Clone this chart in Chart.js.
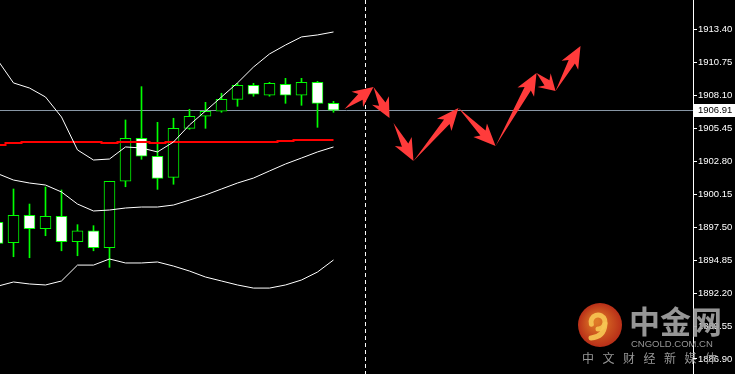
<!DOCTYPE html>
<html>
<head>
<meta charset="utf-8">
<script src="https://cdn.jsdelivr.net/npm/chart.js@4.4.1/dist/chart.umd.min.js"></script>
<style>
    html, body { margin: 0; padding: 0; background: #000; }
    #wrap { width: 735px; height: 374px; }
    canvas { background: #000; display: block; }
</style>
</head>
<body>
<div id="wrap"><canvas id="goldChart" width="735" height="374"></canvas></div>
<script>
// --- Data ---

// candles, oldest first (bar slot 0 is only half visible on the left edge)
const opens  = [1897.89, 1896.25, 1898.45, 1897.37, 1898.37, 1896.33, 1897.21, 1895.85, 1901.19, 1904.65, 1903.20,
                1901.51, 1905.45, 1906.42, 1906.82, 1907.78, 1908.91, 1908.11, 1908.99, 1908.11, 1909.15, 1907.46];
const highs  = [1898.20, 1900.57, 1899.36, 1900.73, 1900.49, 1897.70, 1897.62, 1901.19, 1906.12, 1908.80, 1905.93,
                1906.26, 1906.98, 1907.54, 1908.27, 1909.07, 1909.07, 1909.15, 1909.47, 1909.47, 1909.23, 1907.62];
const lows   = [1895.60, 1895.12, 1895.04, 1896.81, 1895.60, 1895.20, 1895.60, 1894.27, 1900.75, 1902.96, 1900.54,
                1900.95, 1905.37, 1905.45, 1906.74, 1907.22, 1908.03, 1908.03, 1907.46, 1907.30, 1905.53, 1906.74];
const closes = [1896.20, 1898.45, 1897.37, 1898.37, 1896.33, 1897.21, 1895.85, 1901.19, 1904.65, 1903.20, 1901.43,
                1905.45, 1906.42, 1906.82, 1907.78, 1908.91, 1908.19, 1909.07, 1908.11, 1909.15, 1907.46, 1906.91];

// Bollinger bands
const upperBand  = [1910.95, 1909.10, 1908.69, 1907.97, 1906.36, 1903.71, 1902.90, 1902.98, 1903.95, 1903.87, 1903.55,
                    1904.35, 1905.72, 1906.84, 1907.97, 1909.10, 1910.38, 1911.43, 1912.15, 1912.80, 1912.96, 1913.20];
const middleBand = [1901.81, 1901.29, 1901.05, 1900.89, 1900.33, 1899.36, 1898.80, 1898.88, 1899.04, 1899.12, 1899.12,
                    1899.28, 1899.68, 1900.09, 1900.57, 1901.05, 1901.45, 1902.02, 1902.58, 1903.06, 1903.55, 1903.95];
const lowerBand  = [1892.75, 1893.09, 1892.93, 1892.85, 1893.17, 1894.45, 1894.45, 1894.94, 1894.62, 1894.62, 1894.70,
                    1894.37, 1893.97, 1893.49, 1893.17, 1892.85, 1892.60, 1892.60, 1892.85, 1893.25, 1893.89, 1894.86];

// red moving average
const redMA = [1904.11, 1904.27, 1904.35, 1904.35, 1904.35, 1904.35, 1904.35, 1904.27, 1904.35, 1904.35, 1904.27,
               1904.35, 1904.35, 1904.35, 1904.35, 1904.35, 1904.35, 1904.35, 1904.43, 1904.51, 1904.51, 1904.51];

// forecast arrows: path points (bar slot, price) and which points are joined
const forecastX = [21.69, 23.5, 24.5, 24.75, 26.0, 28.81, 31.13, 33.69, 34.88, 36.44];
const forecastY = [1907.00, 1908.77, 1906.28, 1905.88, 1902.82, 1907.08, 1904.03, 1909.90, 1908.45, 1912.07];
const arrowPairs = [[0, 1], [1, 2], [3, 4], [4, 5], [5, 6], [6, 7], [7, 8], [8, 9]];

const bidPrice = 1906.91;
const forecastStart = 23;   // dashed separator, in bar slots

const yTicks = [1886.90, 1889.55, 1892.20, 1894.85, 1897.50, 1900.15, 1902.80, 1905.45, 1908.10, 1910.75, 1913.40];
const yMin = 1885.69, yMax = 1915.77;
const xMin = 0.15625, xMax = 43.47;

// --- Helpers ---
const pts = arr => arr.map((v, i) => ({ x: i, y: v }));

function drawArrow(ctx, x0, y0, x1, y1) {
    const dx = x1 - x0, dy = y1 - y0;
    const len = Math.hypot(dx, dy);
    const ux = dx / len, uy = dy / len;
    const nx = -uy, ny = ux;
    const head = Math.min(18, len * 0.45);
    const bx = x1 - ux * head, by = y1 - uy * head;
    const shaft = 3.6, wing = 9.5;
    ctx.beginPath();
    ctx.moveTo(x0, y0);
    ctx.lineTo(bx + nx * shaft, by + ny * shaft);
    ctx.lineTo(bx - ux * 4 + nx * wing, by - uy * 4 + ny * wing);
    ctx.lineTo(x1, y1);
    ctx.lineTo(bx - ux * 4 - nx * wing, by - uy * 4 - ny * wing);
    ctx.lineTo(bx - nx * shaft, by - ny * shaft);
    ctx.closePath();
    ctx.fill();
}

const overlay = {
    id: 'overlay',
    beforeDatasetsDraw(chart) {
        const { ctx, chartArea, scales } = chart;
        ctx.save();
        // bid line
        const yb = Math.round(scales.y.getPixelForValue(bidPrice)) + 0.5;
        ctx.strokeStyle = '#8796a5';
        ctx.lineWidth = 1;
        ctx.beginPath();
        ctx.moveTo(chartArea.left, yb);
        ctx.lineTo(chartArea.right, yb);
        ctx.stroke();
        // dashed separator
        const xs = scales.x.getPixelForValue(forecastStart);
        ctx.strokeStyle = '#ffffff';
        ctx.setLineDash([4, 3]);
        ctx.beginPath();
        ctx.moveTo(xs, chartArea.top);
        ctx.lineTo(xs, chartArea.bottom);
        ctx.stroke();
        ctx.restore();
    },
    afterDatasetsDraw(chart) {
        const { ctx, scales } = chart;
        ctx.save();
        ctx.fillStyle = '#ff3b3b';
        arrowPairs.forEach(([a, b]) => {
            drawArrow(ctx,
                scales.x.getPixelForValue(forecastX[a]), scales.y.getPixelForValue(forecastY[a]),
                scales.x.getPixelForValue(forecastX[b]), scales.y.getPixelForValue(forecastY[b]));
        });
        ctx.restore();
    },
    afterDraw(chart) {
        const { ctx, chartArea, scales } = chart;
        ctx.save();
        // current price tag
        const yb = Math.round(scales.y.getPixelForValue(bidPrice));
        ctx.fillStyle = '#ffffff';
        ctx.fillRect(chartArea.right, yb - 6, 42, 13);
        ctx.fillStyle = '#000000';
        ctx.font = '9.5px "Liberation Sans"';
        ctx.textBaseline = 'middle';
        ctx.fillText(bidPrice.toFixed(2), chartArea.right + 5, yb + 0.5);

        // watermark
        ctx.globalAlpha = 0.92;
        const cx = 600, cy = 325;
        const g = ctx.createRadialGradient(cx - 4, cy - 4, 2, cx, cy, 22);
        g.addColorStop(0, '#f3862a');
        g.addColorStop(1, '#c8321a');
        ctx.fillStyle = g;
        ctx.beginPath();
        ctx.arc(cx, cy, 22, 0, Math.PI * 2);
        ctx.fill();
        ctx.strokeStyle = '#f6c453';
        ctx.lineWidth = 5;
        ctx.lineCap = 'round';
        ctx.beginPath();
        ctx.arc(cx - 2, cy - 3, 7, Math.PI * 0.9, Math.PI * 2.5);
        ctx.stroke();
        ctx.beginPath();
        ctx.moveTo(cx + 5, cy - 1);
        ctx.quadraticCurveTo(cx + 4, cy + 12, cx - 9, cy + 13);
        ctx.stroke();

        ctx.fillStyle = '#a3a3a3';
        ctx.textBaseline = 'alphabetic';
        ctx.font = 'bold 31px "Noto Sans CJK SC"';
        ctx.fillText('中金网', 629, 333);
        ctx.font = '9.5px "Liberation Sans"';
        ctx.fillText('CNGOLD.COM.CN', 631, 347);
        ctx.font = '12px "Noto Sans CJK SC"';
        '中文财经新媒体'.split('').forEach((ch, j) => ctx.fillText(ch, 582 + j * 20.5, 363));
        ctx.restore();
    }
};

// --- Chart ---
const ctx = document.getElementById('goldChart').getContext('2d');
const chart = new Chart(ctx, {
    type: 'bar',
    data: {
        datasets: [{
            type: 'line', label: 'Upper', data: pts(upperBand),
            borderColor: '#ffffff', borderWidth: 1, pointRadius: 0, tension: 0, order: 0
        }, {
            type: 'line', label: 'Middle', data: pts(middleBand),
            borderColor: '#ffffff', borderWidth: 1, pointRadius: 0, tension: 0, order: 0
        }, {
            type: 'line', label: 'Lower', data: pts(lowerBand),
            borderColor: '#ffffff', borderWidth: 1, pointRadius: 0, tension: 0, order: 0
        }, {
            type: 'line', label: 'MA', data: pts(redMA),
            borderColor: '#ff0000', borderWidth: 2, pointRadius: 0, stepped: 'middle', order: 0
        }, {
            label: 'Body',
            data: opens.map((o, i) => ({ x: i, y: [o, closes[i]] })),
            backgroundColor: opens.map((o, i) => closes[i] < o ? '#ffffff' : '#000000'),
            borderColor: '#00ff00', borderWidth: 1, borderSkipped: false,
            barThickness: 11, grouped: false, order: 1
        }, {
            label: 'Wick',
            data: lows.map((l, i) => ({ x: i, y: [l, highs[i]] })),
            backgroundColor: '#00ff00', borderWidth: 0,
            barThickness: 1, grouped: false, order: 2
        }]
    },
    options: {
        responsive: false,
        animation: false,
        devicePixelRatio: 1,
        layout: { padding: 0 },
        plugins: { legend: { display: false }, tooltip: { enabled: false } },
        scales: {
            x: { type: 'linear', min: xMin, max: xMax, display: false, offset: false },
            y: {
                position: 'right',
                min: yMin, max: yMax,
                grid: { drawOnChartArea: false, drawTicks: true, tickLength: 4, color: '#ffffff' },
                border: { display: true, color: '#ffffff', width: 1 },
                ticks: {
                    color: '#ffffff', padding: 1, autoSkip: false,
                    font: { family: 'Liberation Sans', size: 9.5 },
                    callback: v => v.toFixed(2)
                },
                afterBuildTicks: s => { s.ticks = yTicks.map(v => ({ value: v })); },
                afterFit: s => { s.width = 42; s.paddingTop = 0; s.paddingBottom = 0; }
            }
        }
    },
    plugins: [overlay]
});
</script>
</body>
</html>
